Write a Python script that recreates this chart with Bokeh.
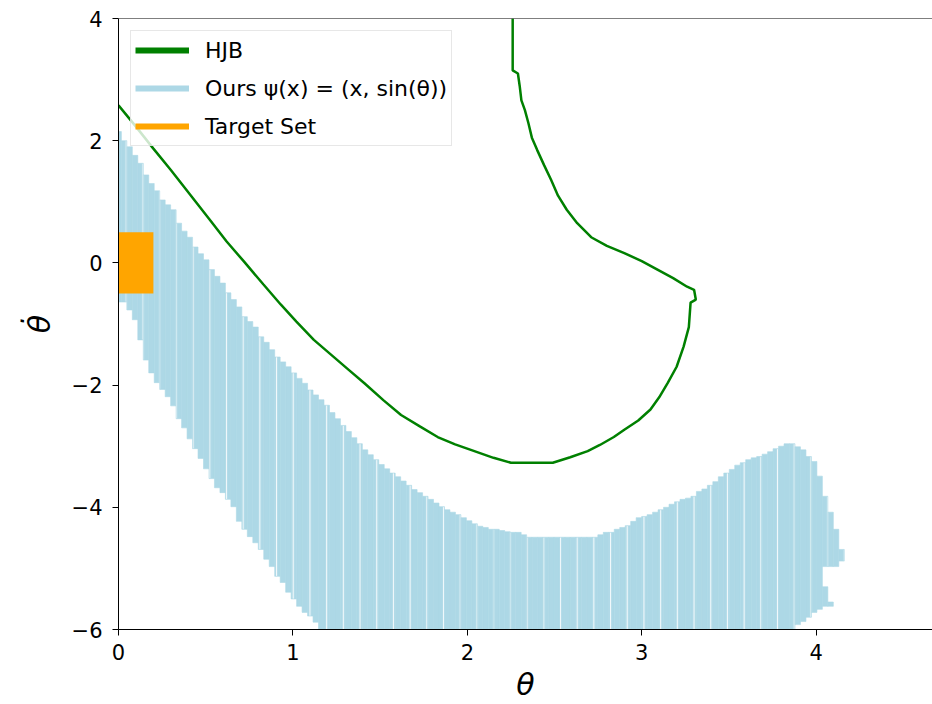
from bokeh.plotting import figure
from bokeh.models import Range1d, Span, FixedTicker
from bokeh.embed import file_html
from bokeh.resources import INLINE

# ---------------- data ----------------
x_ticks = [0, 1, 2, 3, 4]
y_ticks = [-6, -4, -2, 0, 2, 4]
y_tick_labels = {-6: "\u22126", -4: "\u22124", -2: "\u22122", 0: "0", 2: "2", 4: "4"}

# learned safe set: sampled on a regular theta grid (column start, column step)
grid_theta_start = -0.015
grid_theta_step = 0.0314

ours_top = [
    2.15, 2.00, 1.90, 1.76, 1.63, 1.44, 1.30, 1.18, 1.03, 0.95,
    0.87, 0.65, 0.52, 0.42, 0.26, 0.15, 0.05, -0.11, -0.22, -0.33,
    -0.49, -0.60, -0.72, -0.88, -0.96, -1.05, -1.21, -1.30, -1.42, -1.54,
    -1.62, -1.70, -1.80, -1.89, -1.97, -2.08, -2.16, -2.24, -2.33, -2.45,
    -2.55, -2.66, -2.76, -2.86, -2.96, -3.06, -3.14, -3.22, -3.30, -3.37,
    -3.44, -3.50, -3.57, -3.64, -3.71, -3.76, -3.82, -3.87, -3.93, -3.99,
    -4.04, -4.08, -4.12, -4.17, -4.22, -4.27, -4.31, -4.33, -4.36, -4.36,
    -4.38, -4.40, -4.41, -4.41, -4.45, -4.49, -4.49, -4.49, -4.49, -4.49,
    -4.49, -4.49, -4.49, -4.49, -4.49, -4.49, -4.49, -4.49, -4.45, -4.41,
    -4.41, -4.36, -4.33, -4.30, -4.23, -4.17, -4.15, -4.12, -4.08, -4.04,
    -4.00, -3.95, -3.91, -3.87, -3.85, -3.82, -3.74, -3.70, -3.64, -3.58,
    -3.50, -3.44, -3.38, -3.31, -3.27, -3.22, -3.19, -3.17, -3.13, -3.09,
    -3.04, -3.00, -2.96, -2.96, -3.01, -3.06, -3.17, -3.25, -3.49, -3.82,
    -4.08, -4.36, -4.69,
]
ours_bottom = [
    -0.64, -0.64, -0.77, -0.93, -1.26, -1.59, -1.80, -1.96, -2.07, -2.19,
    -2.34, -2.55, -2.70, -2.88, -3.04, -3.20, -3.37, -3.53, -3.68, -3.76,
    -3.87, -3.99, -4.23, -4.36, -4.48, -4.58, -4.69, -4.85, -4.97, -5.13,
    -5.23, -5.39, -5.50, -5.62, -5.72, -5.78, -5.88, -6.00, -6.00, -6.00,
    -6.00, -6.00, -6.00, -6.00, -6.00, -6.00, -6.00, -6.00, -6.00, -6.00,
    -6.00, -6.00, -6.00, -6.00, -6.00, -6.00, -6.00, -6.00, -6.00, -6.00,
    -6.00, -6.00, -6.00, -6.00, -6.00, -6.00, -6.00, -6.00, -6.00, -6.00,
    -6.00, -6.00, -6.00, -6.00, -6.00, -6.00, -6.00, -6.00, -6.00, -6.00,
    -6.00, -6.00, -6.00, -6.00, -6.00, -6.00, -6.00, -6.00, -6.00, -6.00,
    -6.00, -6.00, -6.00, -6.00, -6.00, -6.00, -6.00, -6.00, -6.00, -6.00,
    -6.00, -6.00, -6.00, -6.00, -6.00, -6.00, -6.00, -6.00, -6.00, -6.00,
    -6.00, -6.00, -6.00, -6.00, -6.00, -6.00, -6.00, -6.00, -6.00, -6.00,
    -6.00, -6.00, -6.00, -6.00, -5.92, -5.87, -5.80, -5.72, -5.67, -4.97,
    -4.97, -4.97, -4.88,
]
# detached fragments of the learned set (column index, bottom, top)
extra_col = [129, 130]
extra_bottom = [-5.62, -5.62]
extra_top = [-5.30, -5.55]

# HJB boundary
hjb_theta = [0.0, 0.10, 0.20, 0.30, 0.41, 0.52, 0.62, 0.72, 0.83, 0.93,
             1.02, 1.12, 1.23, 1.32, 1.41, 1.52, 1.62, 1.73, 1.83, 1.93,
             2.02, 2.15, 2.25, 2.37, 2.49, 2.59, 2.69, 2.76, 2.84, 2.90,
             2.98, 3.05, 3.10, 3.15, 3.20, 3.24, 3.27, 3.28, 3.31, 3.30,
             3.26, 3.18, 3.09, 3.00, 2.90, 2.80, 2.71, 2.63, 2.57, 2.52,
             2.48, 2.44, 2.40, 2.37, 2.35, 2.33, 2.31, 2.30, 2.29, 2.26, 2.26]
hjb_thetadot = [2.58, 2.23, 1.87, 1.52, 1.12, 0.72, 0.35, 0.02, -0.35, -0.68,
                -0.96, -1.26, -1.53, -1.75, -1.97, -2.25, -2.49, -2.68, -2.85, -2.97,
                -3.06, -3.19, -3.27, -3.27, -3.27, -3.18, -3.08, -2.98, -2.85, -2.73,
                -2.58, -2.40, -2.20, -1.96, -1.70, -1.37, -1.05, -0.65, -0.60, -0.44,
                -0.39, -0.25, -0.11, 0.03, 0.16, 0.28, 0.42, 0.65, 0.87, 1.10,
                1.36, 1.60, 1.85, 2.05, 2.29, 2.50, 2.66, 2.90, 3.10, 3.15, 4.0]

# target set
target_theta = [0.0, 0.2]
target_thetadot = [-0.5, 0.5]

labels = ["HJB", "Ours \u03c8(x) = (x, sin(\u03b8))", "Target Set"]
colors = ["#008000", "#add8e6", "#ffa500"]
x_title = "\u03b8"
y_title = "\u03b8\u0307"

# ---------------- plot ----------------
FONT = "DejaVu Sans"
p = figure(width=932, height=704, x_range=Range1d(0, 4.667), y_range=Range1d(-6, 4),
           output_backend="svg", toolbar_location=None,
           min_border_left=118, min_border_right=0, min_border_top=18, min_border_bottom=74)
p.xgrid.visible = False
p.ygrid.visible = False
p.outline_line_color = None
p.background_fill_color = "white"
p.border_fill_color = "white"

lefts = [grid_theta_start + k * grid_theta_step for k in range(len(ours_top))]
rights = [l + grid_theta_step for l in lefts]
p.quad(left=lefts, right=rights, bottom=ours_bottom, top=ours_top,
       fill_color=colors[1], line_color=colors[1], line_width=0.6,
       hatch_pattern="vertical_line", hatch_color="white", hatch_alpha=0.85,
       hatch_scale=16.7, hatch_weight=1.2)
p.quad(left=[lefts[c] for c in extra_col], right=[rights[c] for c in extra_col],
       bottom=extra_bottom, top=extra_top,
       fill_color=colors[1], line_color=colors[1], line_width=0.6)

p.quad(left=[target_theta[0]], right=[target_theta[1]],
       bottom=[target_thetadot[0]], top=[target_thetadot[1]],
       fill_color=colors[2], line_color=None)

p.line(hjb_theta, hjb_thetadot, line_color=colors[0], line_width=2.5)

# legend proxies (a single undefined point: nothing drawn in the plot area)
nan = float("nan")
for lab, col in zip(labels, colors):
    p.line([nan], [nan], line_color=col, line_width=6, legend_label=lab)

top_spine = Span(location=4, dimension="width", line_color="black", line_width=1)
p.add_layout(top_spine)

for ax in (p.xaxis, p.yaxis):
    ax.axis_line_color = "black"
    ax.axis_line_width = 1
    ax.major_tick_line_color = "black"
    ax.major_tick_out = 6
    ax.major_tick_in = 0
    ax.minor_tick_line_color = None
    ax.major_label_text_font = FONT
    ax.major_label_text_font_size = "21px"
    ax.major_label_text_color = "black"
    ax.axis_label_text_font = FONT
    ax.axis_label_text_font_style = "italic"
    ax.axis_label_text_font_size = "30px"
    ax.axis_label_text_color = "black"

p.xaxis.ticker = FixedTicker(ticks=x_ticks)
p.yaxis.ticker = FixedTicker(ticks=y_ticks)
p.yaxis.major_label_overrides = y_tick_labels
p.xaxis.major_label_standoff = 8
p.yaxis.major_label_standoff = 10
p.xaxis.axis_label = x_title
p.xaxis.axis_label_text_line_height = 0.6
p.xaxis.axis_label_standoff = 4
p.yaxis.axis_label = y_title
p.yaxis.axis_label_standoff = 12

lg = p.legend[0]
lg.location = "top_left"
lg.margin = 12
lg.padding = 4
lg.spacing = 8
lg.glyph_width = 54
lg.glyph_height = 30
lg.label_height = 30
lg.label_standoff = 16
lg.label_text_font = FONT
lg.label_text_font_size = "22px"
lg.label_text_color = "black"
lg.border_line_color = "#d0d0d0"
lg.border_line_width = 1
lg.background_fill_color = "white"
lg.background_fill_alpha = 0.8

open("out.html", "w").write(file_html(p, INLINE))
